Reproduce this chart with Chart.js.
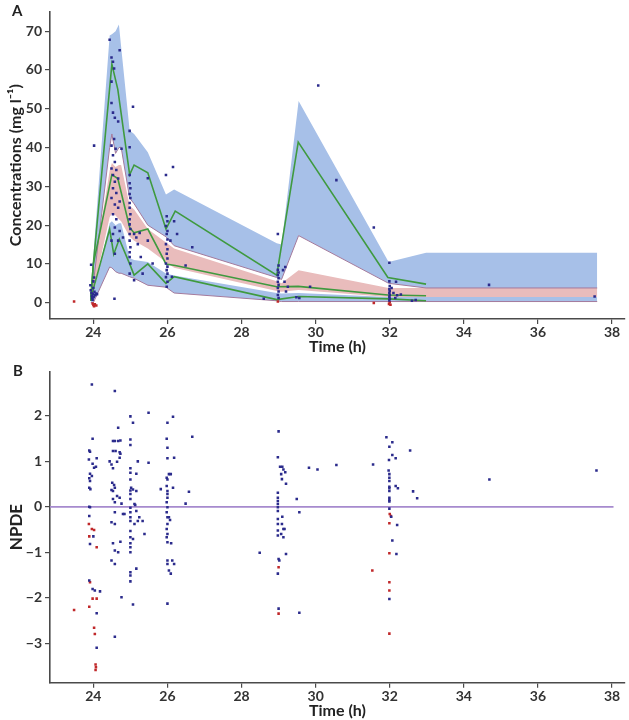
<!DOCTYPE html>
<html>
<head>
<meta charset="utf-8">
<script src="https://cdn.jsdelivr.net/npm/chart.js@4"></script>
<style>
    body { margin: 0; background: #fff; }
    #wrap { position: relative; width: 629px; height: 720px; }
    #wrap canvas { position: absolute; left: 0; }
    .panel-label { position: absolute; font: bold 15px Lato, sans-serif; color: #222; }
</style>
</head>
<body>
<div id="wrap">
    <canvas id="vpc-chart" width="629" height="360" style="top:0"></canvas>
    <canvas id="npde-chart" width="629" height="360" style="top:360px"></canvas>
    <div class="panel-label" style="left:12px;top:1px">A</div>
    <div class="panel-label" style="left:13px;top:361px">B</div>
</div>
<script>
// ---- Panel A: VPC bands (time nodes shared by all three bands)
const bandTime = [23.93, 24.0, 24.44, 24.5, 24.6, 24.69, 24.75, 24.98, 25.1, 25.47, 25.96, 26.18, 28.95, 29.08, 29.54, 31.97, 32.98, 37.6];
const upperHi  = [2, 12, 68.9, 69.2, 70, 71.7, 66, 44.4, 43.5, 38.8, 27.9, 29.2, 15.3, 15, 52, 10.5, 12.9, 12.9];
const upperLo  = [0.5, 5, 40, 43.5, 38.5, 40, 40.1, 27, 25.5, 20, 17, 14.7, 6.5, 6, 17.3, 5, 3.8, 3.8];
const medianHi = [1, 8, 34, 36, 35, 35.5, 35.5, 25, 24, 19, 15.5, 14, 5.5, 5, 8.4, 3.8, 3.8, 3.8];
const medianLo = [0, 3, 22, 23, 22.5, 21.5, 21, 17, 16, 14, 10.5, 9, 3, 2.8, 3.3, 1.5, 1.5, 1.5];
const lowerHi  = [0.8, 2.5, 20.5, 21, 20, 20.5, 20.5, 11.5, 11, 10.5, 7.5, 7, 2.5, 2.4, 2.5, 1.5, 1.5, 1.5];
const lowerLo  = [0, 0, 9.2, 9, 8, 7.6, 7.6, 6.7, 6.3, 4.5, 4, 2.5, 0.5, 0.3, 0.3, 0.3, 0.3, 0.3];

// Observed percentiles (green lines)
const obsTime = [23.93, 24.0, 24.5, 24.66, 24.98, 25.1, 25.47, 25.96, 26.21, 28.95, 29.53, 31.95, 32.98];
const obsP95  = [1, 10, 61.5, 55, 33, 35.5, 33.5, 19, 23.6, 7.1, 41.4, 6.5, 4.8];
const obsP50  = [0.5, 10, 33, 32, 19.4, 18, 19, 10, 9.6, 4.1, 4.2, 2.0, 1.8];
const lowTime = [23.93, 24.0, 24.44, 24.55, 24.7, 24.98, 25.1, 25.47, 25.96, 26.18, 28.95, 29.54, 31.97, 32.98];
const obsP05  = [0.5, 3.5, 19, 12.5, 16.4, 10, 7.1, 10, 5, 6.7, 0.8, 1.6, 1.0, 0.5];

// Observed concentrations [time, mg/l]
const concObs = [
    [23.92, 4.5], [23.93, 3.2], [23.95, 2.5], [23.96, 1.8], [23.97, 1.2], [23.98, 0.8], [24.0, 3.8], [24.0, 2.2],
    [24.01, 1.5], [24.02, 6.5], [24.03, 2.8], [24.05, 1.9], [24.08, 2.4], [24.02, 40.5], [24.1, 2.2], [23.94, 9.8], [24.0, 5.5],
    [24.44, 67.8], [24.49, 63.2], [24.53, 62.1], [24.56, 60.4], [24.49, 57], [24.71, 65.1], [24.49, 51.5], [24.53, 49],
    [24.58, 47.7], [24.67, 46.7], [24.56, 42.2], [24.49, 40.5], [24.6, 39.7], [24.53, 38], [24.58, 36.3], [24.49, 34.6],
    [24.62, 34.2], [24.53, 32.9], [24.58, 31.2], [24.67, 32], [24.53, 29.5], [24.62, 28.3], [24.49, 27], [24.58, 25.3],
    [24.67, 24.5], [24.53, 22.8], [24.62, 21.5], [24.58, 19.4], [24.71, 18.5], [24.53, 17.7], [24.49, 16], [24.67, 16],
    [24.58, 12.6], [24.8, 16.8], [24.57, 1.0], [24.76, 39.7], [24.71, 26.1],
    [24.98, 44.3], [24.98, 40.1], [24.98, 32.9], [24.98, 30.8], [25.0, 29.5], [24.98, 28], [25.0, 27], [24.98, 25.7],
    [24.98, 24.5], [25.0, 22.8], [24.98, 21.5], [24.98, 20.2], [25.0, 19], [24.98, 17.7], [24.98, 16], [25.0, 14.3],
    [24.98, 13], [24.98, 11.8], [25.0, 10.1], [24.98, 7.5], [25.07, 50.5], [25.1, 17.7], [25.16, 16.8], [25.2, 15.1],
    [25.25, 18], [25.28, 11.8], [25.33, 7.5], [25.1, 5.8], [25.47, 32.1], [25.47, 16], [25.6, 10.1],
    [26.15, 35], [25.96, 32.9], [25.98, 22.3], [26.0, 21], [25.96, 19.8], [26.0, 18.5], [25.98, 17.7], [26.0, 16.3],
    [25.96, 15.1], [26.0, 13.8], [25.98, 12.6], [26.0, 11.4], [25.96, 10.1], [26.0, 9.3], [25.98, 8.4], [26.0, 7.5],
    [25.96, 6.6], [26.0, 5.4], [25.98, 4.1], [26.18, 21], [26.26, 17.7], [26.49, 9.6], [26.67, 14.3], [26.08, 16], [26.12, 6.7],
    [28.98, 17.7], [29.0, 9.6], [28.98, 8.5], [29.0, 7.8], [28.98, 7.1], [29.0, 6.3], [28.98, 5.4], [29.0, 4.6],
    [28.98, 3.8], [29.0, 2.9], [28.98, 2], [29.0, 1.2], [29.12, 8.4], [29.18, 9.2], [29.16, 5.4], [29.25, 4.1],
    [29.2, 2.9], [28.6, 1.0], [29.48, 1.4], [29.56, 1.2], [29.85, 4.1],
    [30.07, 56], [30.56, 31.6], [31.57, 19.4], [31.99, 10.3], [32.17, 5.4], [34.68, 4.6], [37.53, 1.6],
    [31.99, 5.5], [32.0, 4.3], [31.99, 3.5], [32.0, 3], [31.99, 2.5], [32.0, 2], [31.99, 1.5], [32.0, 1.0],
    [31.99, 0.6], [32.05, 3.8], [32.1, 2.5], [32.15, 1.2], [32.3, 2.1], [32.6, 0.5], [32.7, 0.7], [32.2, 1.9]
];
const concBlq = [
    [23.48, 0.3], [23.98, -0.2], [24.0, -0.6], [24.02, -0.9], [24.04, -0.4], [24.08, -0.7], [28.98, 0.3],
    [31.57, -0.1], [31.98, -0.3], [32.0, 0.1], [32.02, -0.5]
];

// ---- Panel B: NPDE [time, npde]
const npdeObs = [
    [23.96, 2.69], [23.98, 1.50], [23.89, 1.24], [23.91, 1.21], [23.88, 1.04], [24.09, 1.07], [23.98, 0.95], [24.02, 0.86],
    [24.07, 0.88], [23.91, 0.73], [23.96, 0.68], [23.89, 0.63], [23.91, 0.57], [23.89, 0.42], [23.92, 0.39], [23.89, 0.0],
    [23.91, -0.01], [23.89, -0.2], [24.0, -0.65], [23.91, -0.82], [23.89, -1.62], [23.98, -1.81], [24.04, -1.84],
    [24.18, -1.86], [24.09, -2.34], [24.09, -3.10],
    [24.58, 2.55], [24.53, 1.45], [24.58, 1.45], [24.67, 1.45], [24.53, 1.23], [24.6, 1.23], [24.71, 1.2], [24.73, 1.17],
    [24.44, 1.0], [24.49, 0.93], [24.53, 0.85], [24.64, 0.99], [24.71, 1.08], [24.51, 0.53], [24.56, 0.48], [24.58, 0.42],
    [24.49, 0.37], [24.53, 0.35], [24.64, 0.24], [24.71, 0.2], [24.53, 0.17], [24.58, 0.1], [24.76, 0.07], [24.49, -0.34],
    [24.58, -0.38], [24.58, -0.12], [24.53, -0.8], [24.58, -0.96], [24.67, -1.0], [24.49, -1.18], [24.58, -1.26],
    [24.58, -2.86], [24.76, -1.99], [24.8, -0.16], [24.67, 1.74], [24.73, 1.46], [24.84, -0.16], [24.73, -0.77],
    [25.0, 1.99], [25.07, 1.85], [25.0, 1.48], [25.0, 1.36], [25.0, 0.85], [25.0, 0.75], [25.16, 0.73], [25.0, 0.6],
    [25.02, 0.42], [25.0, 0.36], [25.0, 0.28], [25.0, 0.17], [25.0, -0.02], [25.0, -0.12], [25.0, -0.23], [25.0, -0.31],
    [25.0, -0.53], [25.0, -0.67], [25.0, -0.8], [25.0, -0.89], [25.0, -1.0], [25.0, -1.44], [25.0, -1.51], [25.0, -1.64],
    [25.07, -0.71], [25.07, -2.15], [25.16, -1.36], [25.2, 1.0], [25.16, 0.35], [25.11, 0.06], [25.16, -0.09],
    [25.11, -0.38], [25.2, -0.31], [25.24, -0.23], [25.33, -0.31], [25.38, -0.6], [25.49, 0.97], [25.49, 2.07],
    [25.82, 0.39], [25.07, 0.38], [25.13, 0.04],
    [26.0, 1.85], [25.98, 1.5], [26.0, 1.3], [26.0, 1.07], [25.98, 0.64], [26.0, 0.6], [26.04, 0.72], [26.09, 0.72],
    [25.98, 0.46], [26.0, 0.35], [26.0, 0.28], [26.0, 0.2], [25.98, 0.1], [26.0, -0.01], [25.98, -0.12], [26.0, -0.23],
    [26.0, -0.38], [25.98, -0.49], [26.0, -0.6], [25.98, -0.67], [26.0, -0.78], [26.04, -0.23], [26.1, -0.8],
    [26.0, -1.18], [26.0, -1.26], [26.04, -1.4], [26.09, -1.47], [26.13, -1.18], [26.18, -1.26], [26.0, -2.13],
    [26.15, 1.98], [26.18, 1.08], [26.15, 0.42], [26.49, 0.07], [26.58, 0.33], [26.67, 1.54], [26.07, -0.29],
    [28.49, -1.01], [29.0, 1.66], [28.98, 1.09], [29.04, 0.88], [29.1, 0.88], [29.13, 0.82], [29.07, 0.72], [29.18, 0.76],
    [29.09, 0.61], [29.2, 0.51], [28.98, 0.31], [28.98, 0.2], [28.98, 0.13], [28.98, 0.06], [28.98, -0.01], [28.98, -0.09],
    [28.98, -0.27], [28.98, -0.38], [28.98, -0.52], [28.98, -0.63], [29.1, -0.22], [29.09, -0.38], [29.13, -0.49],
    [29.07, -0.6], [29.13, -0.67], [29.16, -0.49], [29.2, -1.04], [29.0, -1.15], [29.02, -1.18], [28.98, -1.47],
    [29.0, -2.24], [29.49, 0.17], [29.56, -0.12], [29.56, -2.33], [29.82, 0.86],
    [30.05, 0.82], [30.56, 0.92], [31.55, 0.93], [31.91, 1.53], [32.07, 1.42], [31.99, 1.32], [32.55, 1.24], [32.07, 1.14],
    [32.16, 1.07], [31.98, 1.03], [31.97, 0.8], [31.99, 0.72], [31.99, 0.64], [31.99, 0.57], [31.99, 0.44], [31.99, 0.41],
    [31.99, 0.35], [31.99, 0.2], [31.99, 0.15], [31.99, 0.12], [32.16, 0.46], [32.22, 0.41], [32.63, 0.34], [32.74, 0.19],
    [31.99, -0.04], [32.04, -0.22], [32.2, -0.4], [32.07, -0.74], [32.18, -1.04], [31.99, -2.03], [34.69, 0.6], [37.58, 0.8]
];
const npdeBlq = [
    [23.48, -2.27], [23.88, -0.38], [23.96, -0.49], [24.02, -0.51], [23.89, -0.65], [24.09, -0.89], [23.91, -1.66],
    [23.98, -2.02], [24.09, -2.02], [23.89, -2.2], [24.02, -2.66], [24.04, -2.80], [24.06, -3.47], [24.07, -3.53],
    [24.06, -3.59], [29.0, -1.33], [29.0, -2.35], [32.0, -0.16], [32.03, -0.2], [31.99, -0.36], [31.99, -1.02],
    [31.53, -1.4], [31.99, -1.66], [31.99, -1.84], [31.99, -2.79]
];
const zeroLine = [[22.83, 0], [38.04, 0]];

// Axis ticks
const timeTicks = [24, 26, 28, 30, 32, 34, 36, 38];
const concTicks = [0, 10, 20, 30, 40, 50, 60, 70];
const npdeTicks = [-3, -2, -1, 0, 1, 2];

const FONT = 'Lato, "Open Sans", sans-serif';
const AXIS_COLOR = '#4a4a4a';
const BLUE_FILL = '#a7c0e8';
const PINK_FILL = '#e9bcbc';
const EDGE = '#a47a9c';
const GREEN = '#3f9a3f';
const DOT_BLUE = '#2b2b8c';
const DOT_RED = '#c0282a';

const xy = (xs, ys) => xs.map((x, i) => ({ x: x, y: ys[i] }));
const pts = arr => arr.map(p => ({ x: p[0], y: p[1] }));

function bandDatasets(lo, hi, color, edge) {
    return [
        { data: xy(bandTime, lo), borderColor: edge || 'transparent', borderWidth: edge ? 1 : 0, fill: false, order: 10 },
        { data: xy(bandTime, hi), borderColor: 'transparent', borderWidth: 0, backgroundColor: color, fill: '-1', order: 10 }
    ];
}

function greenLine(xs, ys) {
    return { data: xy(xs, ys), borderColor: GREEN, borderWidth: 1.6, fill: false, order: 5 };
}

function dots(arr, color) {
    return { data: pts(arr), showLine: false, pointStyle: 'rect', pointRadius: 1.8,
             pointBackgroundColor: color, pointBorderWidth: 0, order: 1 };
}

function axes(yMin, yMax, yTicks, yTitle, yTitleSize, axisHeight, titlePad, yFmt) {
    return {
        x: {
            type: 'linear', min: 22.83, max: 38.35,
            afterBuildTicks: s => { s.ticks = timeTicks.map(v => ({ value: v })); },
            afterFit: s => { s.height = axisHeight; },
            grid: { drawOnChartArea: false, drawTicks: true, tickLength: 5, color: AXIS_COLOR, lineWidth: 1.2 },
            border: { display: true, color: AXIS_COLOR, width: 1.6 },
            ticks: { font: { family: FONT, size: 14, weight: 'bold' }, color: '#333', padding: 0, maxRotation: 0 },
            title: { display: true, text: 'Time (h)', font: { family: FONT, size: 16, weight: 'bold' }, color: '#222',
                     padding: { top: 0, bottom: titlePad } }
        },
        y: {
            type: 'linear', min: yMin, max: yMax,
            afterBuildTicks: s => { s.ticks = yTicks.map(v => ({ value: v })); },
            afterFit: s => { s.width = 50; },
            grid: { drawOnChartArea: false, drawTicks: true, tickLength: 5, color: AXIS_COLOR, lineWidth: 1.2 },
            border: { display: true, color: AXIS_COLOR, width: 1.6 },
            ticks: { font: { family: FONT, size: 14, weight: 'bold' }, color: '#333', padding: 3, callback: yFmt },
            title: { display: true, text: yTitle, font: { family: FONT, size: yTitleSize, weight: 'bold' }, color: '#222', padding: 6 }
        }
    };
}

const common = {
    responsive: false,
    animation: false,
    elements: { line: { tension: 0 }, point: { radius: 0 } },
    plugins: { legend: { display: false }, tooltip: { enabled: false } }
};

// Panel A
new Chart(document.getElementById('vpc-chart'), {
    type: 'line',
    data: {
        datasets: [
            ...bandDatasets(upperLo, upperHi, BLUE_FILL, EDGE),
            ...bandDatasets(medianLo, medianHi, PINK_FILL, null),
            ...bandDatasets(lowerLo, lowerHi, BLUE_FILL, EDGE),
            greenLine(obsTime, obsP95),
            greenLine(obsTime, obsP50),
            greenLine(lowTime, obsP05),
            dots(concObs, DOT_BLUE),
            dots(concBlq, DOT_RED)
        ]
    },
    options: {
        ...common,
        layout: { padding: { top: 7, left: 0, right: 0, bottom: 0 } },
        scales: axes(-4.2, 75.1, concTicks, 'Concentrations (mg l\u207B\u00B9)', 16, 41, 4, v => v)
    }
});

// Panel B
new Chart(document.getElementById('npde-chart'), {
    type: 'line',
    data: {
        datasets: [
            { data: pts(zeroLine), borderColor: '#a68ace', borderWidth: 1.8, fill: false, order: 3 },
            dots(npdeObs, DOT_BLUE),
            dots(npdeBlq, DOT_RED)
        ]
    },
    options: {
        ...common,
        layout: { padding: { top: 10, left: 0, right: 0, bottom: 0 } },
        scales: axes(-3.87, 2.98, npdeTicks, 'NPDE', 17, 37.3, 0, v => String(v).replace('-', '\u2212'))
    }
});
</script>
</body>
</html>
